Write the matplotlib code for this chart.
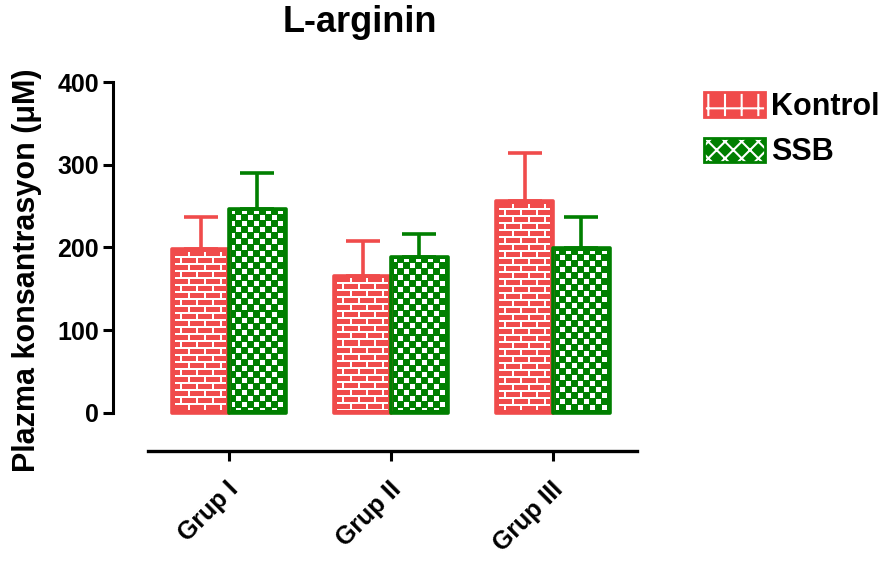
import matplotlib
matplotlib.use("Agg")
import matplotlib.pyplot as plt
from matplotlib.patches import Patch
from matplotlib.legend_handler import HandlerTuple
from matplotlib.transforms import ScaledTranslation
import numpy as np

# data
groups = ["Grup I", "Grup II", "Grup III"]
series = ["Kontrol", "SSB"]
kontrol_mean = [198, 166, 256]
kontrol_err = [39, 42, 58]
ssb_mean = [247, 189, 199]
ssb_err = [43, 27, 38]

RED = "#F04B4B"
GREEN = "#007F00"

plt.rcParams["font.family"] = ["Liberation Sans", "DejaVu Sans"]
plt.rcParams["font.weight"] = "bold"
plt.rcParams["hatch.linewidth"] = 1.5


def rgb(c):
    return np.array(matplotlib.colors.to_rgb(c))


def brick_pattern(h, w, color, margin=3):
    img = np.ones((h, w, 3))
    yy, xx = np.mgrid[0:h, 0:w]
    row = yy // 7
    white = (yy % 7) < 2
    white |= ((xx + (row % 2) * 8) % 16) < 2
    img[~white] = rgb(color)
    img[:margin, :] = rgb(color)
    img[-margin:, :] = rgb(color)
    img[:, :margin] = rgb(color)
    img[:, -margin:] = rgb(color)
    return img


def checker_pattern(h, w, color, margin=3):
    img = np.ones((h, w, 3))
    yy, xx = np.mgrid[0:h, 0:w]
    green = ((yy // 6 + xx // 6) % 2) == 1
    green |= (yy % 6 == 0) | (xx % 6 == 0)
    img[green] = rgb(color)
    img[:margin, :] = rgb(color)
    img[-margin:, :] = rgb(color)
    img[:, :margin] = rgb(color)
    img[:, -margin:] = rgb(color)
    return img


fig = plt.figure(figsize=(8.84, 5.61), dpi=100)
ax = fig.add_axes([113 / 884, 110 / 561, 524 / 884, 369 / 561])

x = np.arange(len(groups))
w = 0.35
XLIM = (-0.716, 2.519)
YLIM = (-46, 400)
ax.set_xlim(*XLIM)
ax.set_ylim(*YLIM)

sets = [
    (x - w / 2, kontrol_mean, kontrol_err, RED, brick_pattern),
    (x + w / 2, ssb_mean, ssb_err, GREEN, checker_pattern),
]
for pos, mean, err, col, pattern in sets:
    ax.errorbar(pos, mean, yerr=[np.zeros(len(err)), err], fmt="none",
                ecolor=col, elinewidth=2.6, capsize=12, capthick=2.6, zorder=1)
    bars = ax.bar(pos, mean, w, color=col, edgecolor="none", zorder=2)
    for b in bars:
        bb = b.get_window_extent()
        img = pattern(int(round(bb.height)), int(round(bb.width)), col)
        bx, by = b.get_x(), b.get_y()
        im = ax.imshow(img, extent=(bx, bx + b.get_width(), by, by + b.get_height()),
                       aspect="auto", interpolation="nearest", zorder=3)
        im.set_clip_path(b)
    ax.bar(pos, mean, w, facecolor="none", edgecolor=col, linewidth=2.6,
           joinstyle="round", zorder=4)

ax.set_xlim(*XLIM)
ax.set_ylim(*YLIM)

for s in ["top", "right"]:
    ax.spines[s].set_visible(False)
ax.spines["left"].set_bounds(0, 400)
ax.spines["bottom"].set_bounds(-0.5, XLIM[1])
ax.spines["left"].set_linewidth(2.2)
ax.spines["bottom"].set_linewidth(2.4)

ax.set_yticks([0, 100, 200, 300, 400])
ax.set_xticks(x)
ax.set_xticklabels(groups, rotation=45, ha="right", va="center",
                   rotation_mode="anchor")
ax.tick_params(axis="y", length=7, width=2.2, labelsize=18, pad=3)
ax.tick_params(axis="x", length=7, width=2.2, labelsize=18, pad=18)
shift = ScaledTranslation(0.06, 0, fig.dpi_scale_trans)
for t in ax.get_xticklabels():
    t.set_fontweight("bold")
    t.set_transform(t.get_transform() + shift)
for t in ax.get_yticklabels():
    t.set_fontweight("bold")

fig.text(360 / 884, 1 - 22 / 561, "L-arginin", ha="center", va="center",
         fontsize=26, fontweight="bold")
fig.text(27 / 884, 1 - 270 / 561, "Plazma konsantrasyon (\u03bcM)", rotation=90,
         ha="center", va="center", fontsize=22, fontweight="bold")

handles = [
    (Patch(facecolor=RED, edgecolor="white", hatch="+", linewidth=0),
     Patch(facecolor="none", edgecolor=RED, linewidth=2)),
    (Patch(facecolor=GREEN, edgecolor="white", hatch="xx", linewidth=0),
     Patch(facecolor="none", edgecolor=GREEN, linewidth=2)),
]
fig.legend(handles, series, handler_map={tuple: HandlerTuple(ndivide=1, pad=0)},
           loc="upper left", bbox_to_anchor=(704 / 884, 1 - 92 / 561),
           frameon=False, handlelength=2.0, handleheight=0.85,
           handletextpad=0.2, labelspacing=0.5, borderpad=0, borderaxespad=0,
           prop={"weight": "bold", "size": 22})

fig.savefig("out.png", dpi=100)
